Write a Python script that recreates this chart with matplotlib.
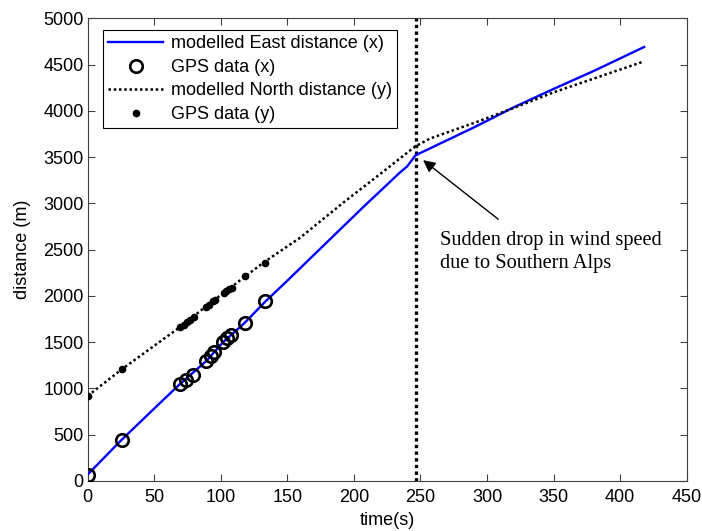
import matplotlib
matplotlib.use("Agg")
import matplotlib.pyplot as plt

plt.rcParams['font.family'] = ['Liberation Sans', 'DejaVu Sans']

# Modelled East distance (x)
east_t = [0, 25.5, 58, 69.5, 89, 102, 108, 118, 133.5, 149.5, 178, 207, 234.5, 240, 246, 248.5, 290, 320, 350, 380, 418]
east_d = [70, 445, 893, 1050, 1295, 1505, 1580, 1710, 1940, 2158, 2556, 2960, 3333, 3400, 3514, 3535, 3820, 4038, 4237, 4430, 4690]

# GPS data (x)
gps_x_t = [0, 25.5, 69.5, 73.5, 79, 89, 93, 95, 102, 105, 108, 118, 133.5]
gps_x_d = [70, 445, 1050, 1095, 1150, 1295, 1355, 1390, 1505, 1550, 1580, 1710, 1940]

# Modelled North distance (y)
north_t = [0, 26, 69.5, 89, 103, 118.5, 133.5, 159.5, 192, 219.6, 246, 257, 295, 320, 350, 418]
north_d = [920, 1211, 1665, 1888, 2042, 2213, 2375, 2628, 3008, 3316, 3615, 3700, 3894, 4031, 4200, 4535]

# GPS data (y)
gps_y_t = [0, 26, 69.5, 72, 74.5, 77, 79.5, 89, 91, 94.5, 96, 102.5, 104, 106, 108.5, 118.5, 133.5]
gps_y_d = [915, 1210, 1660, 1690, 1715, 1745, 1770, 1885, 1905, 1940, 1960, 2035, 2055, 2070, 2090, 2210, 2360]

# Time of the wind drop
event_t = 247

xticks = [0, 50, 100, 150, 200, 250, 300, 350, 400, 450]
yticks = [0, 500, 1000, 1500, 2000, 2500, 3000, 3500, 4000, 4500, 5000]

FS = 13

fig = plt.figure(figsize=(7.02, 5.31), dpi=100)
ax = fig.add_axes([0.1249, 0.0942, 0.8533, 0.8713])

ax.plot(east_t, east_d, color='#0000ff', lw=1.7, label='modelled East distance (x)', zorder=3)
ax.plot(gps_x_t, gps_x_d, linestyle='none', marker='o', ms=9, mfc='none',
        mec='black', mew=1.9, label='GPS data (x)', zorder=4)
ax.plot(north_t, north_d, color='black', lw=1.8, linestyle=(0, (1, 1.1)),
        label='modelled North distance (y)', zorder=3)
ax.plot(gps_y_t, gps_y_d, linestyle='none', marker='.', ms=9, color='black',
        label='GPS data (y)', zorder=4)

ax.axvline(event_t, color='black', lw=2.4, linestyle=(0, (1, 1)), zorder=2)

# Arrow pointing at the kink, with the note placed beneath its tail
ax.annotate('', xy=(252, 3467), xytext=(308.5, 2828),
            arrowprops=dict(arrowstyle='-|>', color='black', lw=1.0,
                            mutation_scale=18, shrinkA=0, shrinkB=0))
ax.text(264.5, 2705, 'Sudden drop in wind speed\ndue to Southern Alps',
        fontsize=14.7, family='Liberation Serif', ha='left', va='top',
        linespacing=1.3)

ax.set_xlim(0, 450)
ax.set_ylim(0, 5000)
ax.set_xticks(xticks)
ax.set_yticks(yticks)
ax.tick_params(direction='in', length=5, width=0.8, top=True, right=True,
               labelsize=FS, colors='#404040', labelcolor='black')
ax.tick_params(axis='x', pad=6)
ax.tick_params(axis='y', pad=3)
for s in ax.spines.values():
    s.set_color('#404040')
    s.set_linewidth(0.8)

ax.set_xlabel('time(s)', fontsize=FS, labelpad=4)
ax.set_ylabel('distance (m)', fontsize=FS, labelpad=9)

leg = ax.legend(loc='upper left', bbox_to_anchor=(103 / 702, 1 - 30 / 531),
                bbox_transform=fig.transFigure, fontsize=FS, frameon=True,
                fancybox=False, edgecolor='black', framealpha=1,
                borderaxespad=0, handlelength=3.0, handletextpad=0.45,
                labelspacing=0.36, borderpad=0.3)
leg.get_frame().set_linewidth(0.8)

fig.savefig('out.png', dpi=100)
